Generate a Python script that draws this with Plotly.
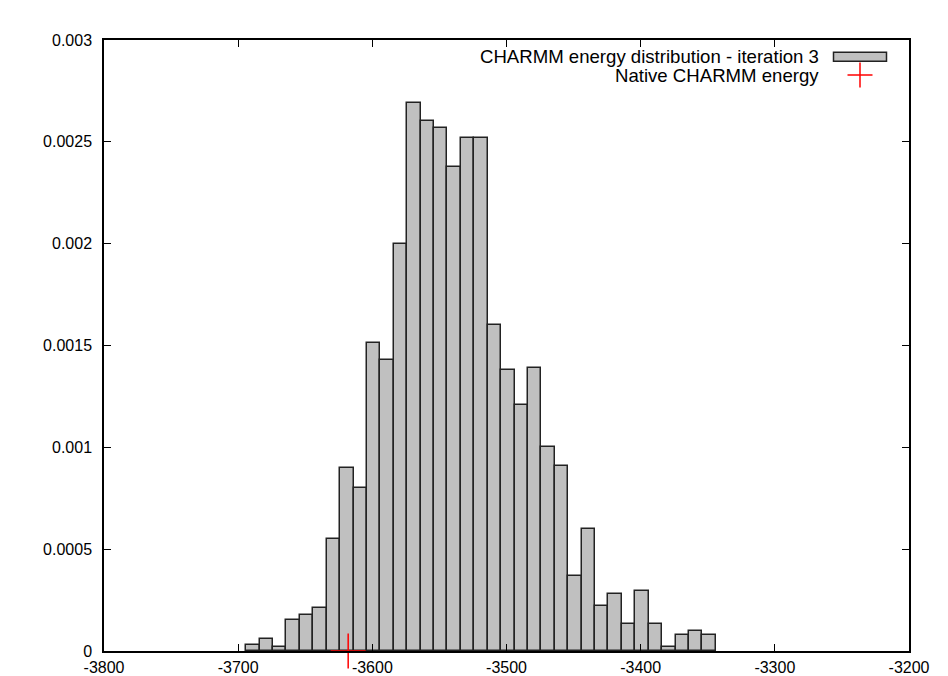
import plotly.graph_objects as go

# Histogram bin centres (width 10) and density values
bin_centers = [-3689 + 10 * i for i in range(35)]
density = [
    0.00003, 0.00006, 0.00002, 0.00015, 0.000175, 0.00021, 0.00055, 0.0009,
    0.0008, 0.00151, 0.00143, 0.002, 0.00269, 0.0026, 0.00257, 0.002375,
    0.00252, 0.00252, 0.0016, 0.00138, 0.00121, 0.00139, 0.001, 0.00091,
    0.00037, 0.0006, 0.00022, 0.00028, 0.000135, 0.000295, 0.000135, 0.00002,
    0.00008, 0.0001, 0.00008,
]
bin_width = 10

native_x = [-3618]
native_y = [0]

x_ticks = [-3800, -3700, -3600, -3500, -3400, -3300, -3200]
x_tick_text = ["-3800", "-3700", "-3600", "-3500", "-3400", "-3300", "-3200"]
y_ticks = [0, 0.0005, 0.001, 0.0015, 0.002, 0.0025, 0.003]
y_tick_text = ["0", "0.0005", "0.001", "0.0015", "0.002", "0.0025", "0.003"]

hist_label = "CHARMM energy distribution - iteration 3"
native_label = "Native CHARMM energy"

FONT = "Liberation Sans, Arial, sans-serif"
TICK_SIZE = 16

fig = go.Figure()
fig.add_trace(go.Bar(
    x=bin_centers, y=density, width=bin_width,
    marker=dict(color="#c0c0c0", line=dict(color="#222222", width=1.5)),
    name=hist_label, showlegend=False,
))
fig.add_trace(go.Scatter(
    x=native_x, y=native_y, mode="markers",
    marker=dict(symbol="cross-thin", size=25, line=dict(color="red", width=1.5)),
    cliponaxis=False, name=native_label, showlegend=False,
))

L, R, T, B = 104, 39, 40, 25
W, H = 948, 676
pw, ph = W - L - R, H - T - B

def px(xp):
    return (xp - L) / pw

def py(yp):
    return (H - B - yp) / ph

annotations = [
    dict(text=hist_label, x=px(821), y=py(56), xref="paper", yref="paper",
         xanchor="right", yanchor="middle", showarrow=False,
         font=dict(family=FONT, size=18.6, color="black")),
    dict(text=native_label, x=px(821), y=py(75), xref="paper", yref="paper",
         xanchor="right", yanchor="middle", showarrow=False,
         font=dict(family=FONT, size=18.6, color="black")),
]
shapes = [
    dict(type="rect", xref="paper", yref="paper",
         x0=px(833.5), x1=px(886.5), y0=py(61.3), y1=py(52.3),
         fillcolor="#c0c0c0", line=dict(color="#222222", width=1.5)),
    dict(type="line", xref="paper", yref="paper",
         x0=px(847.5), x1=px(872.5), y0=py(75), y1=py(75),
         line=dict(color="red", width=1.5)),
    dict(type="line", xref="paper", yref="paper",
         x0=px(860), x1=px(860), y0=py(62.5), y1=py(87.5),
         line=dict(color="red", width=1.5)),
]

fig.update_layout(
    width=W, height=H,
    margin=dict(l=L, r=R, t=T, b=B, pad=0, autoexpand=False),
    plot_bgcolor="white", paper_bgcolor="white",
    bargap=0,
    font=dict(family=FONT, size=TICK_SIZE, color="black"),
    annotations=annotations, shapes=shapes,
    showlegend=False,
)
fig.update_xaxes(
    range=[-3800, -3200], tickvals=x_ticks, ticktext=x_tick_text,
    ticks="inside", ticklen=7,
    tickwidth=1, tickcolor="black", showline=True, linecolor="black",
    linewidth=1.5, mirror="ticks", showgrid=False, zeroline=False,
    ticklabelstandoff=1, automargin=False,
    tickfont=dict(family=FONT, size=TICK_SIZE, color="black"),
)
fig.update_yaxes(
    range=[0, 0.003], tickvals=y_ticks, ticktext=y_tick_text, ticks="inside",
    ticklen=7, tickwidth=1, tickcolor="black", showline=True,
    linecolor="black", linewidth=1.5, mirror="ticks", showgrid=False,
    zeroline=False, ticklabelstandoff=7, automargin=False,
    tickfont=dict(family=FONT, size=TICK_SIZE, color="black"),
)

fig.write_html(
    "out.html",
    config={"displayModeBar": False},
    post_script="document.body.style.margin='0';document.body.style.overflow='hidden';",
)
